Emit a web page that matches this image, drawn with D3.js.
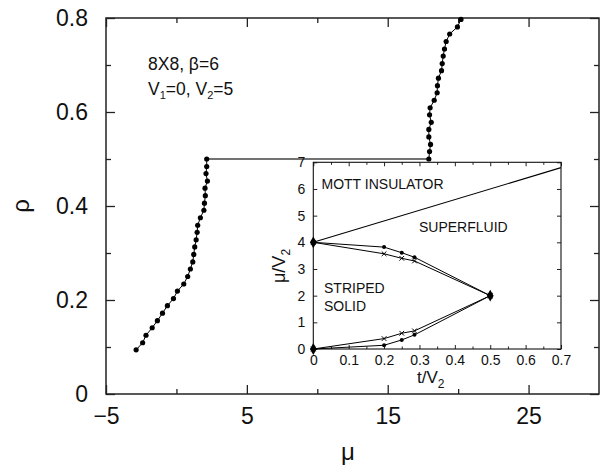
<!DOCTYPE html>
<html>
<head>
<meta charset="utf-8">
<script src="https://d3js.org/d3.v7.min.js"></script>
<style>
body { margin: 0; background: #fff; }
svg { font-family: "Liberation Sans", Arial, Helvetica, sans-serif; }
.tick line { stroke: #222; }
</style>
</head>
<body>
<svg id="chart" width="600" height="468"></svg>
<script>
// main plot: rho vs mu, 8x8 lattice
var leftMu  = [-2.86,-2.4,-2.16,-1.72,-1.35,-0.99,-0.64,-0.21,0.07,0.52,0.8,0.99,1.16,1.23,1.3,1.4,1.47,1.51,1.7,1.95,1.99,2.05,2.03,2.2,2.1,2.15,2.15];
var leftRho = [0.094,0.109,0.125,0.141,0.156,0.172,0.188,0.203,0.219,0.234,0.25,0.266,0.281,0.297,0.313,0.328,0.344,0.359,0.375,0.391,0.406,0.422,0.438,0.453,0.469,0.484,0.5];
var rightMu  = [17.92,17.97,18.04,17.92,17.92,18.09,17.97,18.01,18.3,18.51,18.53,18.6,18.82,18.87,18.94,19.03,19.15,19.4,19.95,20.2];
var rightRho = [0.5,0.516,0.531,0.547,0.563,0.578,0.594,0.609,0.625,0.641,0.656,0.672,0.688,0.703,0.719,0.734,0.75,0.766,0.781,0.797];

// inset: phase diagram mu/V2 vs t/V2
var mottT = [0, 0.7];
var mottV = [4, 6.8];
var dotT = [0, 0.2, 0.25, 0.286, 0.5];
var dotUpper = [4, 3.82, 3.61, 3.44, 2];
var dotLower = [0, 0.14, 0.34, 0.53, 2];
var crossUpper = [4, 3.57, 3.4, 3.3, 2];
var crossLower = [0, 0.39, 0.59, 0.68, 2];

var xMajor = [-5, 5, 15, 25], xMinor = [0, 10, 20];
var yMajor = [0, 0.2, 0.4, 0.6, 0.8], yMinor = [0.1, 0.3, 0.5, 0.7];
var tTicks = [0, 0.1, 0.2, 0.3, 0.4, 0.5, 0.6, 0.7];
var tMinor = [0.05, 0.15, 0.25, 0.35, 0.45, 0.55, 0.65];
var vTicks = [0, 1, 2, 3, 4, 5, 6, 7];

var svg = d3.select("#chart");
var p = { left: 106, right: 599, top: 18, bottom: 394 };
var x = d3.scaleLinear().domain([-5, 30]).range([p.left, p.right]);
var y = d3.scaleLinear().domain([0, 0.8]).range([p.bottom, p.top]);

function zip(a, b) { return a.map(function(v, i) { return [v, b[i]]; }); }
function clean(g) { g.select(".domain").remove(); }

// main axes, ticks pointing inward on all sides
svg.append("g").attr("transform", "translate(0," + p.bottom + ")")
	.call(d3.axisBottom(x).tickValues(xMajor).tickSize(-9).tickPadding(14).tickFormat(d3.format("d")))
	.call(clean)
	.selectAll("text").attr("font-size", 23).attr("fill", "#111").attr("font-family", null);
svg.append("g").attr("transform", "translate(0," + p.bottom + ")")
	.call(d3.axisBottom(x).tickValues(xMinor).tickSize(-5).tickFormat(""))
	.call(clean);
svg.append("g").attr("transform", "translate(0," + p.top + ")")
	.call(d3.axisTop(x).tickValues(xMajor).tickSize(-9).tickFormat(""))
	.call(clean);
svg.append("g").attr("transform", "translate(0," + p.top + ")")
	.call(d3.axisTop(x).tickValues(xMinor).tickSize(-5).tickFormat(""))
	.call(clean);
svg.append("g").attr("transform", "translate(" + p.left + ",0)")
	.call(d3.axisLeft(y).tickValues(yMajor).tickSize(-9).tickPadding(18).tickFormat(function(d) { return d === 0 ? "0" : d3.format(".1f")(d); }))
	.call(clean)
	.selectAll("text").attr("font-size", 23).attr("fill", "#111").attr("font-family", null);
svg.append("g").attr("transform", "translate(" + p.left + ",0)")
	.call(d3.axisLeft(y).tickValues(yMinor).tickSize(-5).tickFormat(""))
	.call(clean);
svg.append("g").attr("transform", "translate(" + p.right + ",0)")
	.call(d3.axisRight(y).tickValues(yMajor).tickSize(-9).tickFormat(""))
	.call(clean);
svg.append("g").attr("transform", "translate(" + p.right + ",0)")
	.call(d3.axisRight(y).tickValues(yMinor).tickSize(-5).tickFormat(""))
	.call(clean);
svg.selectAll(".tick line").attr("stroke-width", 1.3);

svg.append("rect")
	.attr("x", p.left).attr("y", p.top)
	.attr("width", p.right - p.left).attr("height", p.bottom - p.top)
	.attr("fill", "none").attr("stroke", "#222").attr("stroke-width", 1.5);

// axis titles
svg.append("text").attr("x", 348).attr("y", 460).attr("text-anchor", "middle")
	.attr("font-size", 24).attr("fill", "#111").text("μ");
svg.append("text").attr("transform", "translate(29,206) rotate(-90)").attr("text-anchor", "middle")
	.attr("font-size", 24).attr("fill", "#111").text("ρ");

// annotation
svg.append("text").attr("x", 148).attr("y", 69.5).attr("font-size", 17.5).attr("fill", "#111")
	.text("8X8, β=6");
var ann = svg.append("text").attr("x", 148).attr("y", 95).attr("font-size", 17.5).attr("fill", "#111");
ann.append("tspan").text("V");
ann.append("tspan").attr("font-size", 11).attr("dy", 4).text("1");
ann.append("tspan").attr("dy", -4).text("=0, V");
ann.append("tspan").attr("font-size", 11).attr("dy", 4).text("2");
ann.append("tspan").attr("dy", -4).text("=5");

// main curves
var line = d3.line().x(function(d) { return x(d[0]); }).y(function(d) { return y(d[1]); });
var leftPts = zip(leftMu, leftRho), rightPts = zip(rightMu, rightRho);
svg.append("path").datum([leftPts[leftPts.length - 1], rightPts[0]])
	.attr("d", line).attr("fill", "none").attr("stroke", "#444").attr("stroke-width", 1.4);
[leftPts, rightPts].forEach(function(pts) {
	svg.append("path").datum(pts).attr("d", line)
		.attr("fill", "none").attr("stroke", "#000").attr("stroke-width", 1);
	svg.append("g").selectAll("circle").data(pts).enter().append("circle")
		.attr("cx", function(d) { return x(d[0]); })
		.attr("cy", function(d) { return y(d[1]); })
		.attr("r", 2.6).attr("fill", "#000");
});

// inset
var q = { left: 313.3, right: 561, top: 162.3, bottom: 349 };
var xi = d3.scaleLinear().domain([0, 0.7]).range([q.left, q.right]);
var yi = d3.scaleLinear().domain([0, 7]).range([q.bottom, q.top]);
var inset = svg.append("g");
inset.append("rect")
	.attr("x", q.left).attr("y", q.top)
	.attr("width", q.right - q.left).attr("height", q.bottom - q.top)
	.attr("fill", "#fff");

inset.append("g").attr("transform", "translate(0," + q.bottom + ")")
	.call(d3.axisBottom(xi).tickValues(tTicks).tickSize(-4).tickPadding(6).tickFormat(function(d) { return d === 0 ? "0" : d3.format(".1f")(d); }))
	.call(clean)
	.selectAll("text").attr("font-size", 14).attr("fill", "#111").attr("font-family", null);
inset.append("g").attr("transform", "translate(0," + q.bottom + ")")
	.call(d3.axisBottom(xi).tickValues(tMinor).tickSize(-2.5).tickFormat("")).call(clean);
inset.append("g").attr("transform", "translate(0," + q.top + ")")
	.call(d3.axisTop(xi).tickValues(tTicks).tickSize(-4).tickFormat("")).call(clean);
inset.append("g").attr("transform", "translate(0," + q.top + ")")
	.call(d3.axisTop(xi).tickValues(tMinor).tickSize(-2.5).tickFormat("")).call(clean);
inset.append("g").attr("transform", "translate(" + q.left + ",0)")
	.call(d3.axisLeft(yi).tickValues(vTicks).tickSize(-4).tickPadding(8).tickFormat(d3.format("d")))
	.call(clean)
	.selectAll("text").attr("font-size", 14).attr("fill", "#111").attr("font-family", null);
inset.append("g").attr("transform", "translate(" + q.right + ",0)")
	.call(d3.axisRight(yi).tickValues(vTicks).tickSize(-4).tickFormat("")).call(clean);
inset.selectAll(".tick line").attr("stroke-width", 1);

inset.append("rect")
	.attr("x", q.left).attr("y", q.top)
	.attr("width", q.right - q.left).attr("height", q.bottom - q.top)
	.attr("fill", "none").attr("stroke", "#111").attr("stroke-width", 1.1);

var iline = d3.line().x(function(d) { return xi(d[0]); }).y(function(d) { return yi(d[1]); });
inset.append("path").datum(zip(mottT, mottV)).attr("d", iline)
	.attr("fill", "none").attr("stroke", "#000").attr("stroke-width", 1.1);

[dotUpper, dotLower, crossUpper, crossLower].forEach(function(vals) {
	inset.append("path").datum(zip(dotT, vals)).attr("d", iline)
		.attr("fill", "none").attr("stroke", "#000").attr("stroke-width", 1);
});
[dotUpper, dotLower].forEach(function(vals) {
	inset.append("g").selectAll("circle").data(zip(dotT, vals)).enter().append("circle")
		.attr("cx", function(d) { return xi(d[0]); })
		.attr("cy", function(d) { return yi(d[1]); })
		.attr("r", 2).attr("fill", "#000");
});
var cross = d3.symbol().type(d3.symbolX).size(16);
[crossUpper, crossLower].forEach(function(vals) {
	inset.append("g").selectAll("path").data(zip(dotT, vals)).enter().append("path")
		.attr("d", cross)
		.attr("transform", function(d) { return "translate(" + xi(d[0]) + "," + yi(d[1]) + ")"; })
		.attr("fill", "none").attr("stroke", "#000").attr("stroke-width", 1);
});
// end markers at the corners of the solid lobe
inset.append("g").selectAll("path").data([[0, 0], [0, 4], [0.5, 2]]).enter().append("path")
	.attr("d", d3.symbol().type(d3.symbolDiamond).size(40))
	.attr("transform", function(d) { return "translate(" + xi(d[0]) + "," + yi(d[1]) + ")"; })
	.attr("fill", "#000");

// inset labels
inset.append("text").attr("x", 321.5).attr("y", 189).attr("font-size", 14).attr("fill", "#111").text("MOTT INSULATOR");
inset.append("text").attr("x", 419).attr("y", 232).attr("font-size", 14).attr("fill", "#111").text("SUPERFLUID");
inset.append("text").attr("x", 324).attr("y", 293).attr("font-size", 14).attr("fill", "#111").text("STRIPED");
inset.append("text").attr("x", 324).attr("y", 311).attr("font-size", 14).attr("fill", "#111").text("SOLID");

var tl = svg.append("text").attr("x", 417).attr("y", 383).attr("font-size", 17).attr("fill", "#111");
tl.append("tspan").text("t/V");
tl.append("tspan").attr("font-size", 12).attr("dy", 5).text("2");
var ml = svg.append("text").attr("transform", "translate(285,283) rotate(-90)").attr("font-size", 18).attr("fill", "#111");
ml.append("tspan").text("μ/V");
ml.append("tspan").attr("font-size", 12).attr("dy", 5).text("2");
</script>
</body>
</html>
